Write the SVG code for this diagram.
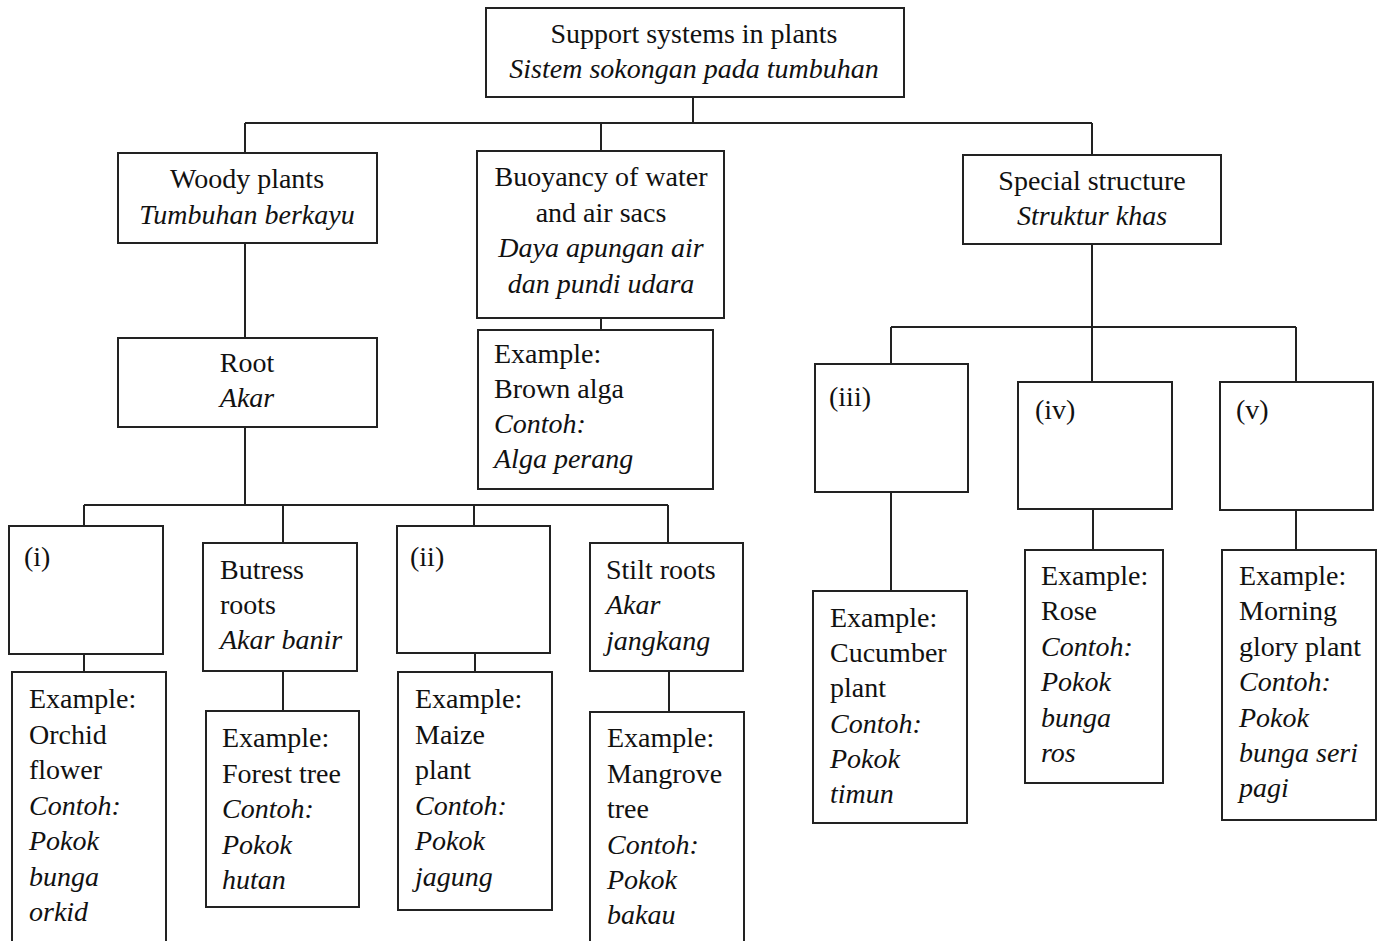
<svg xmlns="http://www.w3.org/2000/svg" width="1382" height="941" viewBox="0 0 1382 941">
<style>
rect{fill:#fff;stroke:#222;stroke-width:2}
#connectors path{fill:none;stroke:#222;stroke-width:2}
text{font-family:"Liberation Serif","Times New Roman",serif;font-size:28px;fill:#111}
.c{text-anchor:middle}
.i{font-style:italic}
</style>
<rect x="0" y="0" width="1382" height="941" style="fill:#fff;stroke:none"/>
<g id="connectors">
<path d="M693 97V123M245 123H1092M245 123V153M601 123V151M1092 123V154"/>
<path d="M245 243V338M245 427V505M84 505H668M84 505V526M283 505V543M474 505V526M668 505V543"/>
<path d="M84 654V672M283 671V711M475 653V672M669 671V712"/>
<path d="M601 318V330"/>
<path d="M1092 244V327M891 327H1296M891 327V364M1092 327V382M1296 327V382"/>
<path d="M891 492V591M1093 509V550M1296 510V550"/>
</g>
<g id="n-top"><rect x="486" y="8" width="418" height="89"/>
<text class="c" x="694" y="43">Support systems in plants</text>
<text class="c i" x="694" y="78">Sistem sokongan pada tumbuhan</text></g>
<g id="n-woody"><rect x="118" y="153" width="259" height="90"/>
<text class="c" x="247" y="188">Woody plants</text>
<text class="c i" x="247" y="224">Tumbuhan berkayu</text></g>
<g id="n-buoy"><rect x="477" y="151" width="247" height="167"/>
<text class="c" x="601" y="186">Buoyancy of water</text>
<text class="c" x="601" y="222">and air sacs</text>
<text class="c i" x="601" y="257">Daya apungan air</text>
<text class="c i" x="601" y="293">dan pundi udara</text></g>
<g id="n-special"><rect x="963" y="155" width="258" height="89"/>
<text class="c" x="1092" y="190">Special structure</text>
<text class="c i" x="1092" y="225">Struktur khas</text></g>
<g id="n-root"><rect x="118" y="338" width="259" height="89"/>
<text class="c" x="247" y="372">Root</text>
<text class="c i" x="247" y="407">Akar</text></g>
<g id="n-alga"><rect x="478" y="330" width="235" height="159"/>
<text x="494" y="363">Example:</text>
<text x="494" y="398">Brown alga</text>
<text class="i" x="494" y="433">Contoh:</text>
<text class="i" x="494" y="468">Alga perang</text></g>
<g id="n-i"><rect x="9" y="526" width="154" height="128"/>
<text x="24" y="566">(i)</text></g>
<g id="n-orchid"><rect x="12" y="672" width="154" height="280"/>
<text x="29" y="708">Example:</text>
<text x="29" y="744">Orchid</text>
<text x="29" y="779">flower</text>
<text class="i" x="29" y="815">Contoh:</text>
<text class="i" x="29" y="850">Pokok</text>
<text class="i" x="29" y="886">bunga</text>
<text class="i" x="29" y="921">orkid</text></g>
<g id="n-butress"><rect x="203" y="543" width="154" height="128"/>
<text x="220" y="579">Butress</text>
<text x="220" y="614">roots</text>
<text class="i" x="220" y="649">Akar banir</text></g>
<g id="n-forest"><rect x="206" y="711" width="153" height="196"/>
<text x="222" y="747">Example:</text>
<text x="222" y="783">Forest tree</text>
<text class="i" x="222" y="818">Contoh:</text>
<text class="i" x="222" y="854">Pokok</text>
<text class="i" x="222" y="889">hutan</text></g>
<g id="n-ii"><rect x="397" y="526" width="153" height="127"/>
<text x="410" y="566">(ii)</text></g>
<g id="n-maize"><rect x="398" y="672" width="154" height="238"/>
<text x="415" y="708">Example:</text>
<text x="415" y="744">Maize</text>
<text x="415" y="779">plant</text>
<text class="i" x="415" y="815">Contoh:</text>
<text class="i" x="415" y="850">Pokok</text>
<text class="i" x="415" y="886">jagung</text></g>
<g id="n-stilt"><rect x="590" y="543" width="153" height="128"/>
<text x="606" y="579">Stilt roots</text>
<text class="i" x="606" y="614">Akar</text>
<text class="i" x="606" y="650">jangkang</text></g>
<g id="n-mangrove"><rect x="590" y="712" width="154" height="240"/>
<text x="607" y="747">Example:</text>
<text x="607" y="783">Mangrove</text>
<text x="607" y="818">tree</text>
<text class="i" x="607" y="854">Contoh:</text>
<text class="i" x="607" y="889">Pokok</text>
<text class="i" x="607" y="924">bakau</text></g>
<g id="n-iii"><rect x="815" y="364" width="153" height="128"/>
<text x="829" y="406">(iii)</text></g>
<g id="n-cucumber"><rect x="813" y="591" width="154" height="232"/>
<text x="830" y="627">Example:</text>
<text x="830" y="662">Cucumber</text>
<text x="830" y="697">plant</text>
<text class="i" x="830" y="733">Contoh:</text>
<text class="i" x="830" y="768">Pokok</text>
<text class="i" x="830" y="803">timun</text></g>
<g id="n-iv"><rect x="1018" y="382" width="154" height="127"/>
<text x="1035" y="419">(iv)</text></g>
<g id="n-rose"><rect x="1025" y="550" width="138" height="233"/>
<text x="1041" y="585">Example:</text>
<text x="1041" y="620">Rose</text>
<text class="i" x="1041" y="656">Contoh:</text>
<text class="i" x="1041" y="691">Pokok</text>
<text class="i" x="1041" y="727">bunga</text>
<text class="i" x="1041" y="762">ros</text></g>
<g id="n-v"><rect x="1220" y="382" width="153" height="128"/>
<text x="1236" y="419">(v)</text></g>
<g id="n-morning"><rect x="1222" y="550" width="154" height="270"/>
<text x="1239" y="585">Example:</text>
<text x="1239" y="620">Morning</text>
<text x="1239" y="656">glory plant</text>
<text class="i" x="1239" y="691">Contoh:</text>
<text class="i" x="1239" y="727">Pokok</text>
<text class="i" x="1239" y="762">bunga seri</text>
<text class="i" x="1239" y="797">pagi</text></g>
</svg>
